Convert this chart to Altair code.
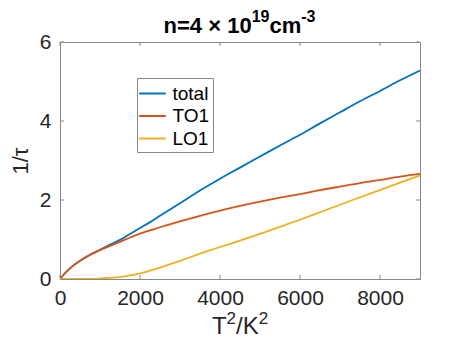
import altair as alt
import pandas as pd

x_vals = [0, 100, 250, 500, 750, 1000, 1250, 1500, 1750, 2000, 2250, 2500, 3000, 3500,
          4000, 4500, 5000, 5500, 6000, 6500, 7000, 7500, 8000, 8500, 9000]
to1 = [0, 0.12, 0.27, 0.46, 0.61, 0.73, 0.84, 0.94, 1.05, 1.15, 1.23, 1.31, 1.46, 1.60,
       1.73, 1.85, 1.96, 2.06, 2.15, 2.25, 2.34, 2.43, 2.51, 2.59, 2.66]
lo1 = [0, 0, 0, 0.001, 0.004, 0.012, 0.03, 0.05, 0.09, 0.14, 0.21, 0.29, 0.46, 0.64,
       0.81, 0.97, 1.14, 1.32, 1.50, 1.69, 1.88, 2.07, 2.25, 2.44, 2.62]
total = [0, 0.12, 0.27, 0.461, 0.614, 0.742, 0.87, 0.99, 1.14, 1.29, 1.44, 1.60, 1.92, 2.24,
         2.54, 2.82, 3.10, 3.38, 3.65, 3.94, 4.22, 4.50, 4.76, 5.03, 5.28]
series_names = ["total", "TO1", "LO1"]
series_colors = ["#0072BD", "#D95319", "#EDB120"]
x_ticks = [0, 2000, 4000, 6000, 8000]
y_ticks = [0, 2, 4, 6]
title_parts = ["n=4 × 10", "19", "cm", "-3"]
xtitle_parts = ["T", "2", "/K", "2"]

rows = []
for name, vals in zip(series_names, [total, to1, lo1]):
    for xv, yv in zip(x_vals, vals):
        rows.append({"x": xv, "y": yv, "series": name})
df = pd.DataFrame(rows)

W, H = 360, 237
FONT = "Liberation Sans"
AX = "#262626"

xs = alt.Scale(domain=[0, 9000], nice=False)
ys = alt.Scale(domain=[0, 6], nice=False)

lines = alt.Chart(df).mark_line(strokeWidth=1.8, clip=True, interpolate="monotone").encode(
    x=alt.X("x:Q", scale=xs, axis=alt.Axis(values=x_ticks, title=None, grid=False,
                                            tickSize=0, labelPadding=8, labelFlush=False,
                                            domain=False, format="d")),
    y=alt.Y("y:Q", scale=ys, axis=alt.Axis(values=y_ticks, title="1/τ", grid=False,
                                            tickSize=0, labelPadding=9, titlePadding=7,
                                            labelFlush=False, domain=False, format="d")),
    color=alt.Color("series:N", sort=series_names,
                    scale=alt.Scale(domain=series_names, range=series_colors),
                    legend=alt.Legend(title=None, orient="none", legendX=77, legendY=36,
                                      symbolType="M-1.21,0H1.21", symbolSize=484,
                                      symbolStrokeWidth=2, labelFontSize=19,
                                      labelFont=FONT, labelColor="#000",
                                      rowPadding=0.5, padding=3.5, strokeColor="#888",
                                      fillColor="white", labelOffset=8)),
)

xt = pd.DataFrame({"t": x_ticks})
yt = pd.DataFrame({"t": y_ticks})
tick_col = "#888"
xb = alt.Chart(xt).mark_rule(color=tick_col, strokeWidth=1).encode(
    x=alt.X("t:Q", scale=xs), y=alt.value(H - 4), y2=alt.value(H))
xtop = alt.Chart(xt).mark_rule(color=tick_col, strokeWidth=1).encode(
    x=alt.X("t:Q", scale=xs), y=alt.value(0), y2=alt.value(4))
yl = alt.Chart(yt).mark_rule(color=tick_col, strokeWidth=1).encode(
    y=alt.Y("t:Q", scale=ys), x=alt.value(0), x2=alt.value(4))
yr = alt.Chart(yt).mark_rule(color=tick_col, strokeWidth=1).encode(
    y=alt.Y("t:Q", scale=ys), x=alt.value(W - 4), x2=alt.value(W))


def pieces(parts, widths_em, sizes, ys_, center, weight, color):
    widths = [w * s for w, s in zip(widths_em, sizes)]
    x0 = center - sum(widths) / 2
    out = []
    for txt, w, fs, yp in zip(parts, widths, sizes, ys_):
        out.append(
            alt.Chart(pd.DataFrame({"t": [txt]})).mark_text(
                font=FONT, fontSize=fs, fontWeight=weight, color=color,
                align="left", baseline="alphabetic").encode(
                text="t:N", x=alt.value(x0), y=alt.value(yp))
        )
        x0 += w
    return out


title_layers = pieces(title_parts, [4.003, 1.112, 1.445, 0.889], [22, 16, 22, 16],
                      [-9, -20, -9, -20], 179.5, "bold", "#000")
xtitle_layers = pieces(xtitle_parts, [0.611, 0.556, 0.945, 0.556], [24, 17, 24, 17],
                       [H + 55, H + 45, H + 55, H + 45], 180, "normal", AX)

chart = alt.layer(xb, xtop, yl, yr, lines, *title_layers, *xtitle_layers).properties(
    width=W, height=H,
    autosize=alt.AutoSizeParams(type="none"),
    padding={"left": 52, "top": 34, "right": 36, "bottom": 61},
    background="white",
).configure_view(stroke="#888", strokeWidth=1).configure_axis(
    labelFont=FONT, labelFontSize=21, labelColor=AX,
    titleFont=FONT, titleFontSize=22, titleColor=AX, titleFontWeight="normal",
)

chart.save("out.html", embed_options={"renderer": "svg", "actions": False})
